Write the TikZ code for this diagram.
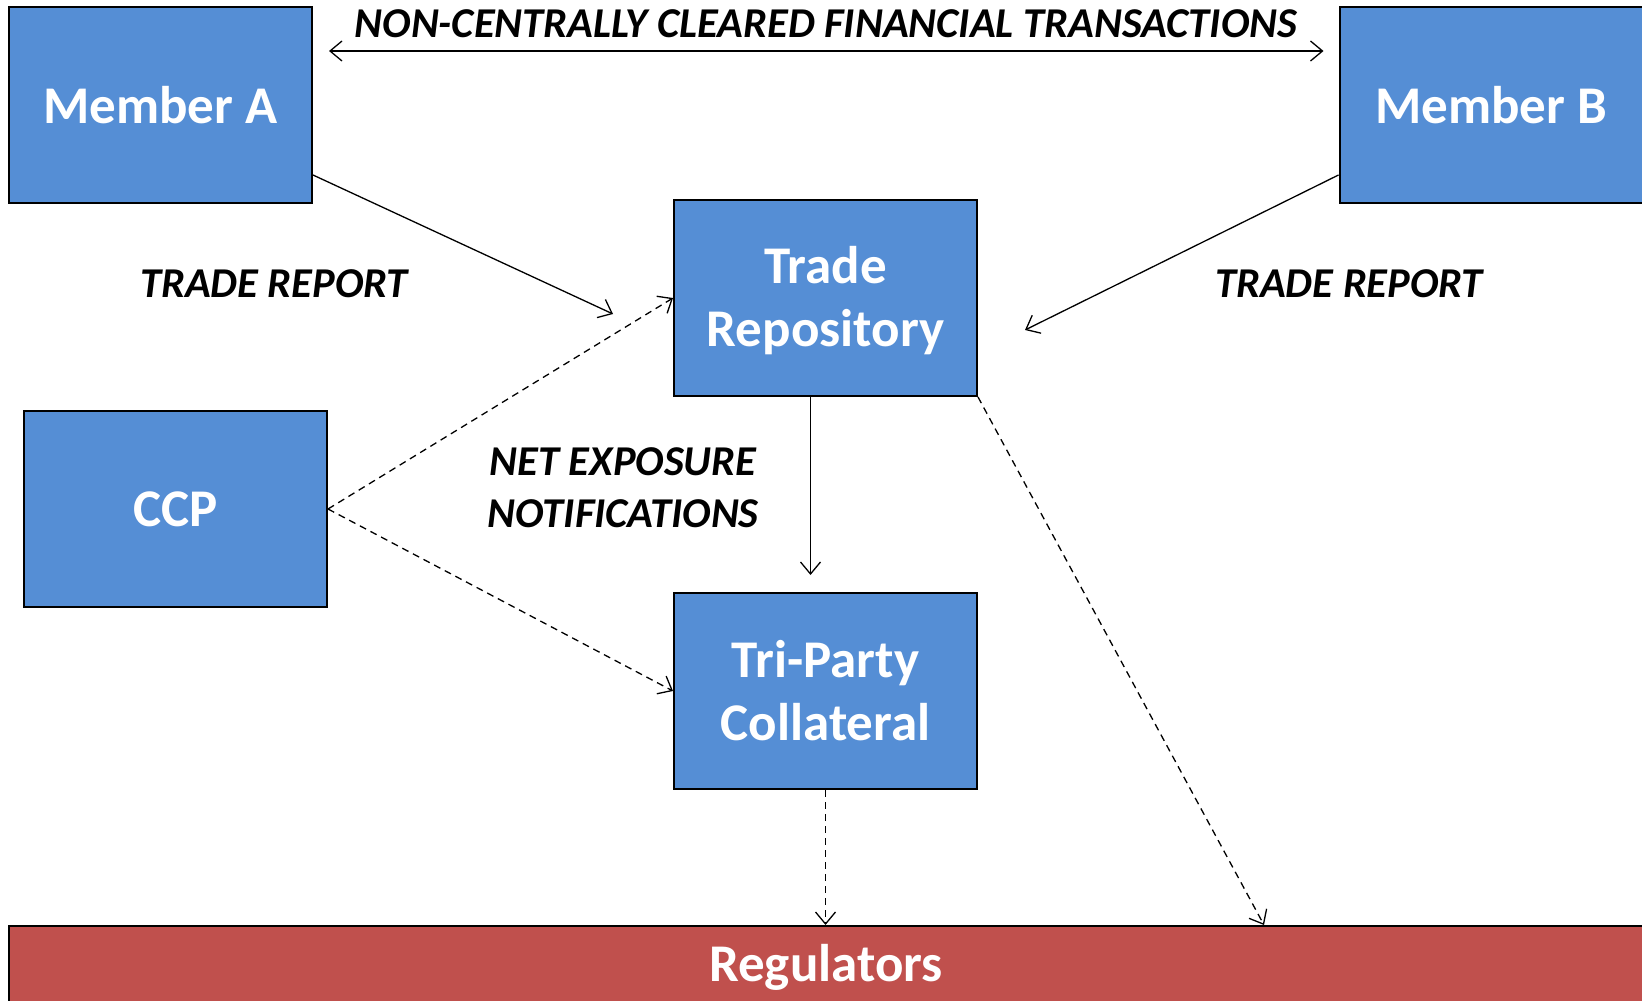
\documentclass[tikz,border=0pt]{standalone}
\usepackage{fontspec}
\setmainfont{Carlito}
\usetikzlibrary{arrows.meta,positioning}
\definecolor{boxblue}{RGB}{85,142,213}
\definecolor{regred}{RGB}{192,80,77}

\begin{document}
\begin{tikzpicture}[x=1pt,y=-1pt,>={Straight Barb[length=12pt,width=20pt]},line width=1.3pt,
    entity/.style={draw,line width=2pt,fill=boxblue,text=white,align=center,inner sep=0pt,
      minimum width=303pt,minimum height=196pt,font=\fontsize{53}{63}\selectfont\bfseries},
    flowlabel/.style={align=center,font=\fontsize{42.5}{52}\selectfont\bfseries\itshape},
    notice/.style={dash pattern=on 7pt off 5pt}]
        \useasboundingbox (0,0) rectangle (1642,1001);
        \clip (0,0) rectangle (1642,1001);
        \node[entity] (ma) at (160.5,105) {Member A};
        \node[entity] (mb) at (1491,105) {Member B};
        \node[entity,text depth=3pt] (tr) at (825.5,298) {Trade\\Repository};
        \node[entity] (ccp) at (175.5,509) {CCP};
        \node[entity] (tpc) at (825.5,691) {Tri-Party\\Collateral};
        \node[entity,fill=regred,minimum width=1634pt,minimum height=82pt] (reg) at (826,967) {Regulators};
        \node[flowlabel] (title) at (826,24) {NON-CENTRALLY CLEARED FINANCIAL TRANSACTIONS};
        \node[flowlabel] (repa) at (274,284) {TRADE REPORT};
        \node[flowlabel] (repb) at (1349,284) {TRADE REPORT};
        \node[flowlabel] (net) at (623,488) {NET EXPOSURE\\NOTIFICATIONS};
        % trades between members
        \draw[<->] ([xshift=16pt,yshift=-45pt]ma.north east)--([xshift=-15pt,yshift=-45pt]mb.north west);
        \draw[->] ([yshift=29pt]ma.south east)--([xshift=-60pt,yshift=-16pt]tr.west);
        \draw[->] ([yshift=29pt]mb.south west)--([xshift=47pt,yshift=-32pt]tr.east);
        \draw[->] ([xshift=-15pt]tr.south)--([xshift=-15pt,yshift=17pt]tpc.north);
        % dashed flows
        \draw[->,notice] (ccp.east)--(tr.west);
        \draw[->,notice] (ccp.east)--(tpc.west);
        \draw[->,notice] (tpc.south)--(tpc.south |- reg.north);
        \draw[->,notice] (tr.south east)--([xshift=438pt]reg.north);
      \end{tikzpicture}
\end{document}
